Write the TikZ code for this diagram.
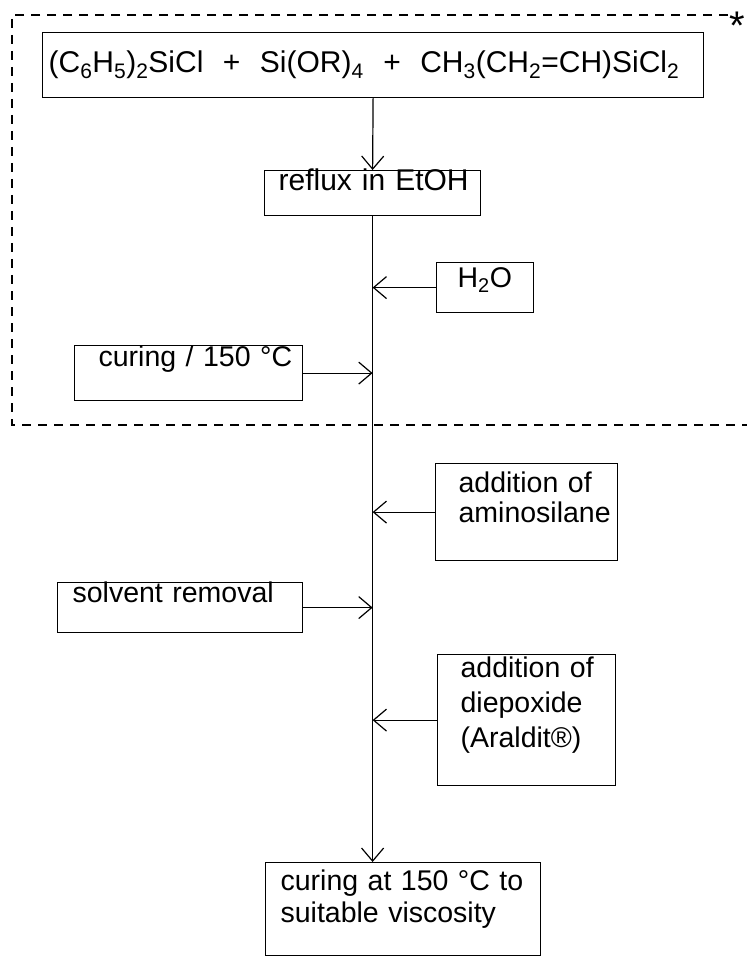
\documentclass[tikz,border=0pt]{standalone}
\usepackage{fontspec}
\setmainfont{Liberation Sans}
\usetikzlibrary{arrows.meta}
\begin{document}
\begin{tikzpicture}[x=1pt,y=-1pt,
  box/.style={draw, line width=1.2pt, anchor=north west, inner ysep=0pt,
              align=left, font=\fontsize{28.5}{31}\selectfont},
  arr/.style={line width=1.2pt,
              -{Straight Barb[length=13pt,width=22pt,line width=1.2pt]}},
  frame/.style={line width=1.2pt, dash pattern=on 9pt off 7pt}]
\useasboundingbox (0,0) rectangle (747,957);

% dashed frame round the first stage
\draw[frame] (728,15) -- (12,15) -- (12,425) -- (747,425);
\node[font=\fontsize{40}{40}\selectfont, inner sep=0pt] (star) at (737,26) {*};

% boxes: inner xsep = text indent, text width = box width - 2*indent
\node[box, font=\fontsize{30}{31}\selectfont, inner xsep=6pt, text width=649pt, text height=40pt, text depth=25pt] (top) at (42,32)
  {\mbox{(C\textsubscript{6}H\textsubscript{5})\textsubscript{2}SiCl\hspace{0.65em}+\hspace{0.65em}Si(OR)\textsubscript{4}\hspace{0.65em}+\hspace{0.65em}CH\textsubscript{3}(CH\textsubscript{2}=CH)SiCl\textsubscript{2}}};
\node[box, font=\fontsize{30}{31}\selectfont, inner xsep=14pt, text width=188pt, text height=20pt, text depth=25pt] (reflux) at (264,170)
  {\mbox{reflux in EtOH}};
\node[box, inner xsep=21pt, text width=55pt, text height=25pt, text depth=25pt] (water) at (436,262)
  {\mbox{H\textsubscript{2}O}};
\node[box, inner xsep=24pt, text width=180pt, text height=21pt, text depth=34pt] (cure) at (74,345)
  {\mbox{curing / 150 °C}};
\node[box, font=\fontsize{28.5}{30}\selectfont, inner xsep=23pt, text width=136pt, text height=29pt, text depth=68pt] (amino) at (435,463)
  {\mbox{addition of}\\\mbox{aminosilane}};
\node[box, inner xsep=15pt, text width=215pt, text height=20pt, text depth=30pt] (solvent) at (57,582)
  {\mbox{solvent removal}};
\node[box, font=\fontsize{28.5}{35}\selectfont, inner xsep=23pt, text width=132pt, text height=23pt, text depth=108pt] (diep) at (437,654)
  {\mbox{addition of}\\\mbox{diepoxide}\\\mbox{(Araldit®)}};
\node[box, font=\fontsize{28.5}{32}\selectfont, inner xsep=15pt, text width=245pt, text height=28pt, text depth=65pt] (final) at (265,862)
  {\mbox{curing at 150 °C to}\\\mbox{suitable viscosity}};

% main flow line
\draw[arr] (top.south) -- (reflux.north);
\draw[arr] (reflux.south) -- (reflux.south |- final.north);

% side feeds into the main line
\draw[arr] (water.west) -- (water.west -| reflux.south);
\draw[arr] (cure.east) -- (cure.east -| reflux.south);
\draw[arr] (amino.west) -- (amino.west -| reflux.south);
\draw[arr] (solvent.east) -- (solvent.east -| reflux.south);
\draw[arr] (diep.west) -- (diep.west -| reflux.south);
\end{tikzpicture}
\end{document}
